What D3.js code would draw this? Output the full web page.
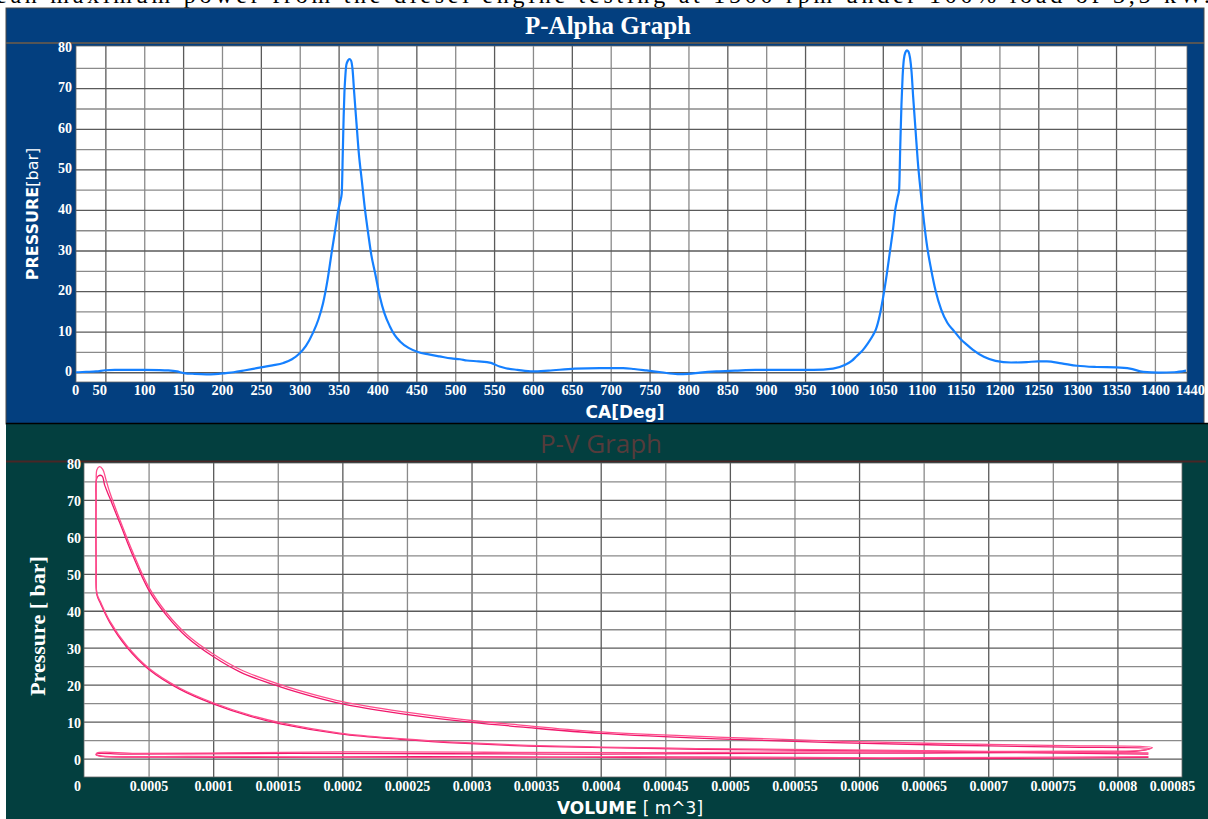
<!DOCTYPE html>
<html>
<head>
<meta charset="utf-8">
<script src="https://cdn.jsdelivr.net/npm/d3@7"></script>
<style>
  body { margin: 0; background: #fff; }
  svg { display: block; }
</style>
</head>
<body>
<svg id="chart" width="1208" height="819"></svg>
<script>
// ---- P-Alpha data (crank angle in deg, pressure in bar) ----
var crankAngle = [0, 12, 25, 38, 50, 62, 80, 100, 120, 131, 142, 151, 165, 180, 191, 205, 215, 230, 250, 265,
    279, 290, 300, 308, 317, 324, 330, 336, 341, 346, 349.6, 352, 354, 355.5, 356.5, 357.5, 358.5, 360, 362, 364,
    366, 368, 370, 373, 376, 380, 384, 388, 392, 397, 403, 409, 416, 422, 429, 440, 452, 466, 480, 495,
    506, 515, 530, 546, 557, 565, 580, 600, 620, 654, 686, 716, 730, 746, 765, 786, 800, 815, 836, 860,
    886, 920, 961, 986, 1001, 1010, 1016, 1024, 1031, 1037, 1041, 1046, 1050, 1055, 1059, 1063, 1066, 1069, 1071, 1072.5,
    1074, 1075.5, 1077, 1079, 1081, 1083, 1085, 1087, 1089, 1092, 1095, 1099, 1103, 1107, 1112, 1118, 1125, 1133, 1141, 1150,
    1158, 1166, 1180, 1195, 1215, 1235, 1250, 1261, 1280, 1300, 1325, 1350, 1368, 1385, 1405, 1425, 1440];
var pressureCA = [0.0, 0.0, 0.1, 0.2, 0.5, 0.6, 0.6, 0.6, 0.55, 0.45, 0.2, -0.2, -0.4, -0.5, -0.45, -0.2, 0.0, 0.5, 1.2, 1.7,
    2.3, 3.2, 4.7, 6.5, 9.7, 13, 17, 23, 29.4, 35.5, 40, 42, 44, 55, 63, 69, 72.5, 75.8, 76.8, 77.2,
    76.8, 74.5, 69, 61.4, 54, 47, 40, 34.3, 29, 24.4, 18.7, 14.5, 11.3, 9.2, 7.6, 6.0, 5.0, 4.4, 3.9, 3.4,
    3.2, 2.9, 2.7, 2.3, 1.4, 1.0, 0.6, 0.2, 0.4, 0.9, 1.0, 1.0, 0.8, 0.45, 0.0, -0.45, -0.4, -0.1, 0.2, 0.4,
    0.6, 0.6, 0.6, 0.9, 1.8, 2.8, 3.9, 5.4, 7.2, 9.0, 10.5, 14, 18, 24, 29.5, 35, 40, 43, 45, 56,
    66, 73, 77, 78.8, 79.3, 79, 77.5, 74, 68, 60, 52, 44, 37, 31, 25.5, 20, 15.5, 12.2, 10.3, 8.2,
    6.8, 5.5, 3.8, 2.8, 2.4, 2.5, 2.7, 2.7, 2.2, 1.6, 1.3, 1.2, 0.9, 0.1, -0.1, 0.0, 0.4];

var caTicks = [0, 50, 100, 150, 200, 250, 300, 350, 400, 450, 500, 550, 600, 650, 700, 750, 800, 850, 900, 950,
    1000, 1050, 1100, 1150, 1200, 1250, 1300, 1350, 1400, 1440];
var caGrid = [50, 100, 150, 200, 250, 300, 350, 400, 450, 500, 550, 600, 650, 700, 750, 800, 850, 900, 950,
    1000, 1050, 1100, 1150, 1200, 1250, 1300, 1350, 1400];
var pTicksTop = [0, 10, 20, 30, 40, 50, 60, 70, 80];
var pGridTop = [0, 5, 10, 15, 20, 25, 30, 35, 40, 45, 50, 55, 60, 65, 70, 75];

// ---- P-V data (volume in m^3, pressure in bar), two recorded cycles ----
// order: compression, combustion, expansion, exhaust, intake
var cycle1Volume = [8.24e-4, 7.0e-4, 6.32e-4, 4.77e-4, 3.61e-4, 2.95e-4, 2.45e-4, 1.98e-4, 1.52e-4, 1.29e-4,
    1.0e-4, 7.4e-5, 5.0e-5, 3.3e-5, 2.0e-5, 1.3e-5, 1.0e-5, 9.4e-6, 9.2e-6, 9.3e-6,
    9.6e-6, 1.1e-5, 1.4e-5, 1.6e-5, 2.0e-5, 2.79e-5, 3.82e-5, 4.98e-5, 6.4e-5, 7.95e-5,
    1.0e-4, 1.21e-4, 1.52e-4, 1.78e-4, 2.0e-4, 2.31e-4, 2.65e-4, 3.0e-4, 3.4e-4, 4.0e-4,
    4.9e-4, 5.8e-4, 6.7e-4, 7.6e-4, 8.25e-4, 8.15e-4, 7.6e-4, 6.5e-4, 5.2e-4, 4.0e-4,
    2.8e-4, 1.6e-4, 8.0e-5, 3.0e-5, 1.0e-5, 9.5e-6, 1.5e-5, 6.0e-5, 1.5e-4, 2.6e-4,
    3.6e-4, 4.6e-4, 5.5e-4, 6.5e-4, 7.5e-4, 8.24e-4];
var cycle1Pressure = [1.2, 1.7, 2.0, 2.5, 3.2, 4.1, 5.2, 6.7, 9.4, 11.4,
    14.8, 18.8, 24.2, 30.2, 36.8, 41.8, 44.3, 52, 62, 70,
    75.5, 76.5, 76.5, 74, 70.5, 63.6, 54.6, 45.8, 38.7, 32.9,
    27.6, 23.4, 19.4, 16.7, 14.8, 12.9, 11.2, 9.8, 8.5, 6.8,
    5.3, 4.3, 3.6, 3.1, 2.7, 2.0, 1.7, 1.5, 1.4, 1.2,
    1.3, 1.4, 1.3, 1.2, 1.3, 1.0, 0.6, 0.4, 0.3, 0.5,
    0.4, 0.2, 0.1, 0.0, 0.1, 0.3];
var cycle2Volume = [8.24e-4, 7.0e-4, 6.3e-4, 4.8e-4, 3.6e-4, 2.95e-4, 2.45e-4, 1.98e-4, 1.52e-4, 1.29e-4,
    1.0e-4, 7.4e-5, 5.0e-5, 3.3e-5, 2.0e-5, 1.3e-5, 1.0e-5, 9.4e-6, 9.3e-6, 9.5e-6,
    1.0e-5, 1.2e-5, 1.45e-5, 1.7e-5, 2.0e-5, 2.79e-5, 3.82e-5, 4.98e-5, 6.4e-5, 7.95e-5,
    1.0e-4, 1.21e-4, 1.52e-4, 1.78e-4, 2.0e-4, 2.31e-4, 2.65e-4, 3.0e-4, 3.4e-4, 4.0e-4,
    4.9e-4, 5.8e-4, 6.7e-4, 7.6e-4, 8.27e-4, 8.2e-4, 7.7e-4, 6.8e-4, 5.6e-4, 4.3e-4,
    3.1e-4, 2.0e-4, 1.1e-4, 4.0e-5, 1.0e-5, 9.6e-6, 2.0e-5, 8.0e-5, 1.8e-4, 3.0e-4,
    4.2e-4, 5.2e-4, 6.2e-4, 7.2e-4, 8.24e-4];
var cycle2Pressure = [1.5, 1.9, 2.2, 2.7, 3.4, 4.3, 5.4, 6.9, 9.7, 11.7,
    15.1, 19.1, 24.5, 30.6, 37.2, 42.2, 44.7, 55, 65, 74,
    78.2, 79, 78.3, 75.5, 72, 64.5, 55.5, 46.6, 39.4, 33.6,
    28.3, 24.1, 20.0, 17.3, 15.4, 13.5, 11.8, 10.3, 9.0, 7.2,
    5.8, 4.7, 4.0, 3.5, 3.0, 2.3, 2.0, 1.9, 1.8, 1.6,
    1.7, 1.8, 1.5, 1.4, 1.5, 0.9, 0.5, 0.6, 0.4, 0.2,
    0.5, 0.4, 0.2, 0.3, 0.5];

var volTicks = [0, 0.00005, 0.0001, 0.00015, 0.0002, 0.00025, 0.0003, 0.00035, 0.0004, 0.00045,
    0.0005, 0.00055, 0.0006, 0.00065, 0.0007, 0.00075, 0.0008, 0.00085];
var volTickLabels = ["0", "0.0005", "0.0001", "0.00015", "0.0002", "0.00025", "0.0003", "0.00035", "0.0004", "0.00045",
    "0.0005", "0.00055", "0.0006", "0.00065", "0.0007", "0.00075", "0.0008", "0.00085"];
var volGrid = volTicks.slice(1, 17);
var pTicksPV = [0, 10, 20, 30, 40, 50, 60, 70, 80];
var pGridPV = [0, 5, 10, 15, 20, 25, 30, 35, 40, 45, 50, 55, 60, 65, 70, 75];

var svg = d3.select('#chart');
var serif = '"Liberation Serif", "Times New Roman", serif';
var sans = '"DejaVu Sans", Verdana, sans-serif';

// cut-off line of document text above the figure
svg.append('text')
    .attr('x', -4).attr('y', 3)
    .attr('font-family', serif).attr('font-size', 24)
    .attr('textLength', 1214).attr('lengthAdjust', 'spacing')
    .text('ean maximum power from the diesel engine testing at 1500 rpm under 100% load of 3,5 kW.');

// ================= P-Alpha Graph =================
var blue = '#033f7f';
var t = {l: 76, r: 1187, tp: 46, b: 382};

svg.append('rect').attr('x', 6).attr('y', 8).attr('width', 1198).attr('height', 416)
    .attr('fill', blue).attr('stroke', '#4a4a4a').attr('stroke-width', 1);
svg.append('line').attr('x1', 6).attr('x2', 1204).attr('y1', 43).attr('y2', 43)
    .attr('stroke', '#555').attr('stroke-width', 2);
svg.append('text').attr('x', 608).attr('y', 34).attr('text-anchor', 'middle')
    .attr('font-family', serif).attr('font-weight', 'bold').attr('font-size', 25)
    .attr('fill', '#fff').text('P-Alpha Graph');

svg.append('rect').attr('x', t.l).attr('y', t.tp).attr('width', t.r - t.l).attr('height', t.b - t.tp)
    .attr('fill', '#fff').attr('stroke', '#666').attr('stroke-width', 0.8);

var xCA = d3.scaleLinear().domain([0, 1440]).range([t.l - 9.5, t.r - 1]);
var yCA = d3.scaleLinear().domain([-2.4, 80.4]).range([t.b, t.tp]);

svg.append('g')
    .attr('transform', `translate(0,${t.b})`)
    .call(d3.axisBottom(xCA).tickValues(caGrid).tickSize(-(t.b - t.tp)).tickFormat(''))
    .call(g => g.select('.domain').remove())
    .selectAll('line').attr('stroke', (d, i) => i % 2 ? '#8a8a8a' : '#5a5a5a').attr('stroke-width', 1.3);

svg.append('g')
    .attr('transform', `translate(${t.l},0)`)
    .call(d3.axisLeft(yCA).tickValues(pGridTop).tickSize(-(t.r - t.l)).tickFormat(''))
    .call(g => g.select('.domain').remove())
    .selectAll('line').attr('stroke', (d, i) => i % 2 ? '#8a8a8a' : '#5a5a5a').attr('stroke-width', 1.3);

svg.append('clipPath').attr('id', 'clipTop').append('rect')
    .attr('x', t.l).attr('y', t.tp).attr('width', t.r - t.l).attr('height', t.b - t.tp);

var lineCA = d3.line()
    .x(i => xCA(crankAngle[i]))
    .y(i => yCA(pressureCA[i]))
    .curve(d3.curveMonotoneX);

svg.append('path')
    .attr('clip-path', 'url(#clipTop)')
    .attr('d', lineCA(d3.range(crankAngle.length)))
    .attr('fill', 'none').attr('stroke', '#1580ff').attr('stroke-width', 2.2);

svg.append('g')
    .attr('transform', `translate(0,${t.b})`)
    .attr('color', '#fff')
    .call(d3.axisBottom(xCA).tickValues(caTicks).tickSize(0).tickPadding(3).tickFormat(d3.format('d')))
    .call(g => g.select('.domain').remove())
    .selectAll('text')
    .attr('font-family', serif).attr('font-weight', 'bold').attr('font-size', 14.5)
    .attr('dx', d => d === 0 ? 8.5 : d === 50 ? -6 : d === 1440 ? 4 : 0);

svg.append('g')
    .attr('transform', `translate(${t.l},0)`)
    .attr('color', '#fff')
    .call(d3.axisLeft(yCA).tickValues(pTicksTop).tickSize(0).tickPadding(4))
    .call(g => g.select('.domain').remove())
    .selectAll('text')
    .attr('font-family', serif).attr('font-weight', 'bold').attr('font-size', 14)
    .attr('dy', '0.25em');

svg.append('text').attr('x', 625).attr('y', 418).attr('text-anchor', 'middle')
    .attr('font-family', sans).attr('font-weight', 'bold').attr('font-size', 17)
    .attr('fill', '#fff').text('CA[Deg]');

var yl1 = svg.append('text').attr('transform', 'translate(38,214) rotate(-90)')
    .attr('text-anchor', 'middle').attr('font-family', sans).attr('font-size', 16)
    .attr('fill', '#fff');
yl1.append('tspan').attr('font-weight', 'bold').text('PRESSURE');
yl1.append('tspan').text('[bar]');

// ================= P-V Graph =================
var teal = '#033f3f';
var b = {l: 84, r: 1182, tp: 463, b: 777};

svg.append('rect').attr('x', 6).attr('y', 424).attr('width', 1202).attr('height', 395).attr('fill', teal);
svg.append('line').attr('x1', 6).attr('x2', 1208).attr('y1', 423.5).attr('y2', 423.5)
    .attr('stroke', '#000').attr('stroke-width', 1.5);
svg.append('line').attr('x1', 6).attr('x2', 1206).attr('y1', 461.5).attr('y2', 461.5)
    .attr('stroke', '#4a2626').attr('stroke-width', 2);
svg.append('text').attr('x', 601).attr('y', 453).attr('text-anchor', 'middle')
    .attr('font-family', '"Open Sans", sans-serif').attr('font-size', 26)
    .attr('fill', '#553b3b').text('P-V Graph');

svg.append('rect').attr('x', b.l).attr('y', b.tp).attr('width', b.r - b.l).attr('height', b.b - b.tp)
    .attr('fill', '#fff').attr('stroke', '#666').attr('stroke-width', 0.8);

var xV = d3.scaleLinear().domain([0, 0.00085]).range([b.l, b.r]);
var yV = d3.scaleLinear().domain([-5, 80]).range([b.b, b.tp]);

svg.append('g')
    .attr('transform', `translate(0,${b.b})`)
    .call(d3.axisBottom(xV).tickValues(volGrid).tickSize(-(b.b - b.tp)).tickFormat(''))
    .call(g => g.select('.domain').remove())
    .selectAll('line').attr('stroke', (d, i) => i % 2 ? '#5a5a5a' : '#8a8a8a').attr('stroke-width', 1.3);

svg.append('g')
    .attr('transform', `translate(${b.l},0)`)
    .call(d3.axisLeft(yV).tickValues(pGridPV).tickSize(-(b.r - b.l)).tickFormat(''))
    .call(g => g.select('.domain').remove())
    .selectAll('line').attr('stroke', (d, i) => i % 2 ? '#8a8a8a' : '#5a5a5a').attr('stroke-width', 1.3);

svg.append('clipPath').attr('id', 'clipPV').append('rect')
    .attr('x', b.l).attr('y', b.tp).attr('width', b.r - b.l).attr('height', b.b - b.tp);

var cycles = [
    {vol: cycle1Volume, p: cycle1Pressure, color: '#f0186c'},
    {vol: cycle2Volume, p: cycle2Pressure, color: '#ff4d8c'}
];

svg.append('g').attr('clip-path', 'url(#clipPV)')
    .selectAll('path')
    .data(cycles)
    .join('path')
    .attr('d', c => d3.line()
        .x(i => xV(c.vol[i]))
        .y(i => yV(c.p[i]))
        .curve(d3.curveCatmullRom.alpha(0.5))(d3.range(c.vol.length)))
    .attr('fill', 'none').attr('stroke', c => c.color).attr('stroke-width', 1.3);

svg.append('g')
    .attr('transform', `translate(0,${b.b})`)
    .attr('color', '#fff')
    .call(d3.axisBottom(xV).tickValues(volTicks).tickSize(0).tickPadding(4)
        .tickFormat((d, i) => volTickLabels[i]))
    .call(g => g.select('.domain').remove())
    .selectAll('text')
    .attr('font-family', serif).attr('font-weight', 'bold').attr('font-size', 14)
    .attr('dx', d => d === 0 ? -7 : d === 0.00085 ? -10 : 0);

svg.append('g')
    .attr('transform', `translate(${b.l},0)`)
    .attr('color', '#fff')
    .call(d3.axisLeft(yV).tickValues(pTicksPV).tickSize(0).tickPadding(3))
    .call(g => g.select('.domain').remove())
    .selectAll('text')
    .attr('font-family', serif).attr('font-weight', 'bold').attr('font-size', 14)
    .attr('dy', '0.4em');

var xl2 = svg.append('text').attr('x', 630).attr('y', 814).attr('text-anchor', 'middle')
    .attr('font-family', sans).attr('font-size', 17).attr('fill', '#fff');
xl2.append('tspan').attr('font-weight', 'bold').text('VOLUME ');
xl2.append('tspan').text('[ m^3]');

svg.append('text').attr('transform', 'translate(45,626) rotate(-90)')
    .attr('text-anchor', 'middle').attr('font-family', serif).attr('font-weight', 'bold')
    .attr('font-size', 22).attr('fill', '#fff').text('Pressure [ bar]');
</script>
</body>
</html>
